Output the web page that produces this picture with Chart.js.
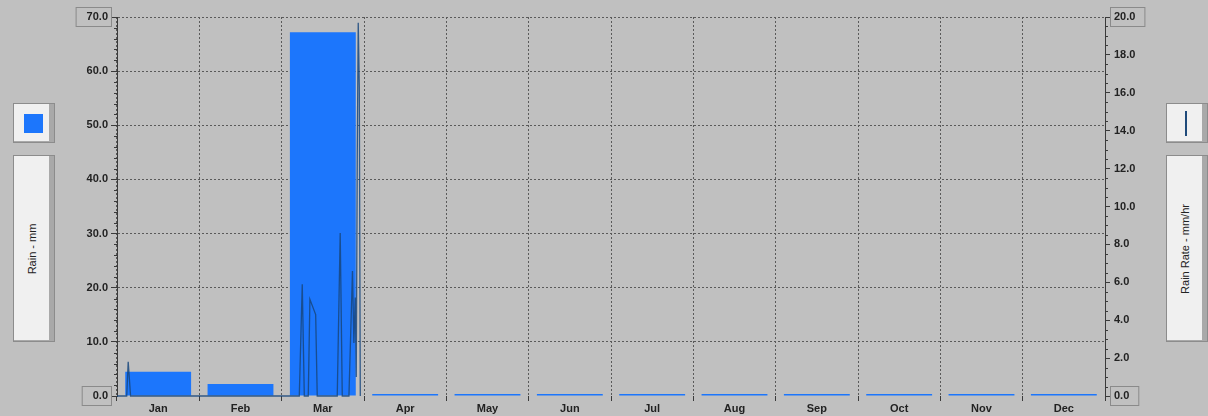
<!DOCTYPE html>
<html>
<head>
<meta charset="utf-8">
<script src="https://cdn.jsdelivr.net/npm/chart.js@4/dist/chart.umd.min.js"></script>
<style>
  body { margin: 0; background: #c0c0c0; }
  #wrap { position: relative; width: 1208px; height: 416px; background: #c0c0c0; overflow: hidden; }
  #chart { position: absolute; left: 0; top: 0; }
  .panel {
    position: absolute; box-sizing: border-box; background: #f0f0f0;
    border: 1px solid #8c8c8c; box-shadow: inset -5px 0 0 #a9a9a9, inset 0 -1px 0 #a9a9a9;
  }
  .vlabel {
    position: absolute; left: 50%; top: 50%; transform: translate(-50%, -50%) rotate(-90deg);
    white-space: nowrap; font: 11px "Liberation Sans", Arial, sans-serif; color: #222;
    margin-left: -2px;
  }
</style>
</head>
<body>
<div id="wrap">
  <canvas id="chart" width="1208" height="416"></canvas>
  <div class="panel" style="left:13px;top:103px;width:42px;height:40px;">
    <div style="position:absolute;left:10px;top:10px;width:19px;height:19px;background:#1c76fc;"></div>
  </div>
  <div class="panel" style="left:13px;top:155px;width:42px;height:187px;">
    <div class="vlabel">Rain - mm</div>
  </div>
  <div class="panel" style="left:1166px;top:103px;width:42px;height:40px;">
    <div style="position:absolute;left:18px;top:7px;width:2px;height:25px;background:#1f4a7a;"></div>
  </div>
  <div class="panel" style="left:1166px;top:155px;width:42px;height:187px;">
    <div class="vlabel">Rain Rate - mm/hr</div>
  </div>
</div>
<script>
// month categories and monthly rain totals (mm)
const months = ['Jan', 'Feb', 'Mar', 'Apr', 'May', 'Jun', 'Jul', 'Aug', 'Sep', 'Oct', 'Nov', 'Dec'];
const rainMm = [4.5, 2.2, 67.2, 0, 0, 0, 0, 0, 0, 0, 0, 0];

// rain rate samples: position in months from 1 Jan, rate in mm/hr
const rateTime = [0, 0.118, 0.136, 0.165, 2.214, 2.25, 2.275, 2.323, 2.343, 2.413, 2.432,
  2.675, 2.711, 2.736, 2.817, 2.86, 2.877, 2.894, 2.906, 2.918, 2.93, 2.943, 2.955];
const rateMmHr = [0, 0, 1.8, 0, 0, 5.9, 0, 0, 5.1, 4.3, 0,
  0, 8.6, 0, 0, 6.6, 2.8, 5.2, 1.0, 12.6, 19.7, 16.3, 0];

// tick labels for the two value axes
const rainTicks = [0, 10, 20, 30, 40, 50, 60, 70];
const rateTicks = [0, 2, 4, 6, 8, 10, 12, 14, 16, 18, 20];

const tickFont = { family: '"Liberation Sans", Arial, sans-serif', size: 11, weight: 'bold' };
const inkColor = '#222';

// boxes round the end labels and the short minor ticks
const axisExtras = {
  id: 'axisExtras',
  afterDraw(chart) {
    const { ctx } = chart;
    const yl = chart.scales.y;
    const yr = chart.scales.y2;
    ctx.save();
    ctx.font = 'bold 11px "Liberation Sans", Arial, sans-serif';
    ctx.strokeStyle = '#8a8a8a';
    ctx.lineWidth = 1;
    [rainTicks[0], rainTicks[rainTicks.length - 1]].forEach((v) => {
      const w = ctx.measureText(v.toFixed(1)).width;
      const py = Math.round(yl.getPixelForValue(v));
      const right = yl.right - 7;
      ctx.strokeRect(right - w - 12.5, py - 9.5, w + 14, 19);
    });
    [rateTicks[0], rateTicks[rateTicks.length - 1]].forEach((v) => {
      const w = ctx.measureText(v.toFixed(1)).width;
      const py = Math.round(yr.getPixelForValue(v));
      const left = yr.left + 5;
      ctx.strokeRect(left + 0.5, py - 9.5, w + 13, 19);
    });
    // minor ticks
    ctx.strokeStyle = '#3a3a3a';
    ctx.beginPath();
    for (let v = 0; v <= 70; v += 2) {
      if (v % 10 === 0) continue;
      const py = Math.round(yl.getPixelForValue(v)) + 0.5;
      ctx.moveTo(yl.right - 3, py);
      ctx.lineTo(yl.right, py);
    }
    for (let v = 0; v <= 20; v += 0.5) {
      if (v % 2 === 0) continue;
      const py = Math.round(yr.getPixelForValue(v)) + 0.5;
      ctx.moveTo(yr.left, py);
      ctx.lineTo(yr.left + 3, py);
    }
    ctx.stroke();
    ctx.restore();
  }
};

new Chart(document.getElementById('chart'), {
  type: 'bar',
  data: {
    labels: months,
    datasets: [
      {
        type: 'line',
        label: 'Rain Rate - mm/hr',
        data: rateTime.map((t, i) => ({ x: t, y: rateMmHr[i] })),
        xAxisID: 'xr',
        yAxisID: 'y2',
        borderColor: 'rgba(24, 70, 125, 0.85)',
        borderWidth: 1.3,
        pointRadius: 0,
        tension: 0,
        clip: false,
        order: 0
      },
      {
        label: 'Rain - mm',
        data: rainMm,
        xAxisID: 'x',
        yAxisID: 'y',
        backgroundColor: '#1c76fc',
        borderWidth: 0,
        minBarLength: 2,
        grouped: false,
        categoryPercentage: 0.8,
        barPercentage: 1,
        order: 1
      }
    ]
  },
  options: {
    responsive: false,
    animation: false,
    layout: { padding: { top: 17, left: 0, right: 0, bottom: 0 } },
    plugins: { legend: { display: false }, tooltip: { enabled: false } },
    scales: {
      x: {
        type: 'category',
        offset: true,
        afterFit: (s) => { s.height = 20; },
        grid: {
          offset: true,
          color: '#5a5a5a',
          tickColor: '#3a3a3a',
          tickLength: 5,
          tickBorderDash: []
        },
        border: { display: false, dash: [2, 2] },
        ticks: { font: tickFont, color: inkColor, padding: 1, maxRotation: 0 }
      },
      xr: {
        type: 'linear',
        display: false,
        offset: false,
        min: 0,
        max: 12
      },
      y: {
        position: 'left',
        min: 0,
        max: 70,
        afterFit: (s) => { s.width = 117; },
        afterBuildTicks: (s) => { s.ticks = rainTicks.map((v) => ({ value: v })); },
        grid: {
          color: (c) => (c.tick && c.tick.value === 0 ? 'rgba(0,0,0,0)' : '#5a5a5a'),
          tickColor: '#3a3a3a',
          tickLength: 6,
          tickBorderDash: []
        },
        border: { display: true, color: '#3a3a3a', width: 1, dash: [2, 2] },
        ticks: { font: tickFont, color: inkColor, padding: 3, callback: (v) => Number(v).toFixed(1) }
      },
      y2: {
        position: 'right',
        min: 0,
        max: 20,
        afterFit: (s) => { s.width = 103; },
        afterBuildTicks: (s) => { s.ticks = rateTicks.map((v) => ({ value: v })); },
        grid: {
          drawOnChartArea: false,
          color: '#3a3a3a',
          tickColor: '#3a3a3a',
          tickLength: 5,
          tickBorderDash: []
        },
        border: { display: true, color: '#3a3a3a', width: 1 },
        ticks: { font: tickFont, color: inkColor, padding: 4, callback: (v) => Number(v).toFixed(1) }
      }
    }
  },
  plugins: [axisExtras]
});
</script>
</body>
</html>
